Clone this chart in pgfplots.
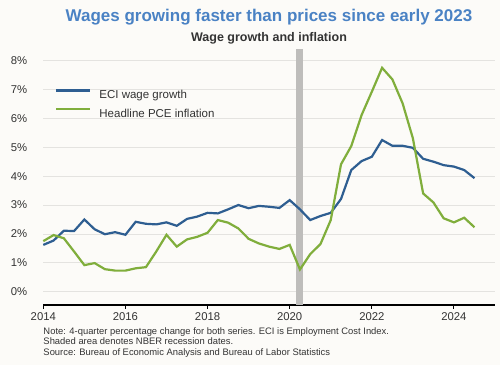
\documentclass[border=0pt]{standalone}
\usepackage{fontspec}
\setmainfont{Liberation Sans}
\usepackage{pgfplots}
\pgfplotsset{compat=1.18}
\definecolor{bg}{HTML}{FCFBF8}
\definecolor{eci}{HTML}{2E5E91}
\definecolor{pce}{HTML}{80AE3C}
\definecolor{ttl}{HTML}{4A82C4}
\definecolor{grd}{HTML}{E4E3E0}
\definecolor{rec}{HTML}{BEBDBB}
\definecolor{txt}{HTML}{333333}
\begin{document}
\begin{tikzpicture}
\fill[bg] (-43.3bp,-60bp) rectangle (456.7bp,305bp);
\node[font=\fontsize{17bp}{20bp}\selectfont\bfseries, text=ttl] at (225.7bp,288bp) {Wages growing faster than prices since early 2023};
\node[font=\fontsize{12.5bp}{15bp}\selectfont\bfseries, text=txt] at (225.7bp,267bp) {Wage growth and inflation};
\node[font=\fontsize{9.4bp}{10.3bp}\selectfont, text=txt, anchor=north west, align=left, inner sep=0pt] at (0bp,-22.5bp) {Note: 4-quarter percentage change for both series. ECI is Employment Cost Index.\\Shaded area denotes NBER recession dates.\\Source: Bureau of Economic Analysis and Bureau of Labor Statistics};
\begin{axis}[
  at={(0,0)}, anchor=south west,
  scale only axis, width=451.7bp, height=256bp,
  xmin=2014, xmax=2025, ymin=-0.46, ymax=8.4,
  axis x line*=bottom, axis y line*=left,
  x axis line style={-, black, line width=1.2bp},
  y axis line style={draw=none},
  xtick={2014,2016,...,2024},
  xticklabel style={/pgf/number format/1000 sep={}, font=\fontsize{11.3bp}{13bp}\selectfont, text=txt},
  x tick label style={/pgf/number format/1000 sep={}},
  xtick style={black, line width=1bp},
  tick align=outside, major tick length=3.5bp,
  ytick={0,1,...,8},
  yticklabel={\pgfmathprintnumber{\tick}\%},
  yticklabel style={font=\fontsize{11.3bp}{13bp}\selectfont, text=txt},
  ytick style={draw=none},
  /pgf/number format/assume math mode=true,
  ymajorgrids, grid style={grd, line width=0.8bp},
  xticklabel shift=1bp, yticklabel shift=9bp,
  clip=false,
  legend cell align=left,
  legend style={at={(rel axis cs:0.026,0.843)}, anchor=north west, draw=none, fill=none,
    font=\fontsize{11.5bp}{13bp}\selectfont, text=txt, inner sep=0pt, row sep=8bp,
    nodes={inner sep=1bp, text height=8.3bp, text depth=0bp}},
  legend image code/.code={\draw[#1] (0bp,4.1bp) -- (34bp,4.1bp); \path (41bp,4.1bp);},
]
\addplot[fill=rec, draw=none, forget plot] coordinates {(2020.16,-0.46) (2020.33,-0.46) (2020.33,8.4) (2020.16,8.4)} -- cycle;
\addplot[eci, line width=2.2bp] coordinates {
(2014.00,1.62) (2014.25,1.77) (2014.50,2.11) (2014.75,2.10)
(2015.00,2.50) (2015.25,2.16) (2015.50,1.99) (2015.75,2.06)
(2016.00,1.97) (2016.25,2.42) (2016.50,2.35) (2016.75,2.33)
(2017.00,2.40) (2017.25,2.28) (2017.50,2.52) (2017.75,2.60)
(2018.00,2.73) (2018.25,2.71) (2018.50,2.85) (2018.75,3.00)
(2019.00,2.89) (2019.25,2.97) (2019.50,2.94) (2019.75,2.90)
(2020.00,3.17) (2020.25,2.85) (2020.50,2.48) (2020.75,2.62)
(2021.00,2.73) (2021.25,3.21) (2021.50,4.21) (2021.75,4.52)
(2022.00,4.67) (2022.25,5.25) (2022.50,5.05) (2022.75,5.05)
(2023.00,4.98) (2023.25,4.60) (2023.50,4.50) (2023.75,4.38)
(2024.00,4.33) (2024.25,4.21) (2024.50,3.93)};
\addlegendentry{ECI wage growth}
\addplot[pce, line width=2.2bp] coordinates {
(2014.00,1.75) (2014.25,1.96) (2014.50,1.85) (2014.75,1.39)
(2015.00,0.92) (2015.25,0.99) (2015.50,0.78) (2015.75,0.73)
(2016.00,0.73) (2016.25,0.81) (2016.50,0.85) (2016.75,1.39)
(2017.00,1.97) (2017.25,1.56) (2017.50,1.81) (2017.75,1.90)
(2018.00,2.04) (2018.25,2.48) (2018.50,2.39) (2018.75,2.19)
(2019.00,1.83) (2019.25,1.67) (2019.50,1.56) (2019.75,1.48)
(2020.00,1.62) (2020.25,0.77) (2020.50,1.30) (2020.75,1.65)
(2021.00,2.48) (2021.25,4.41) (2021.50,5.04) (2021.75,6.11)
(2022.00,6.92) (2022.25,7.75) (2022.50,7.35) (2022.75,6.52)
(2023.00,5.31) (2023.25,3.40) (2023.50,3.09) (2023.75,2.54)
(2024.00,2.40) (2024.25,2.56) (2024.50,2.23)};
\addlegendentry{Headline PCE inflation}
\end{axis}
\end{tikzpicture}
\end{document}
